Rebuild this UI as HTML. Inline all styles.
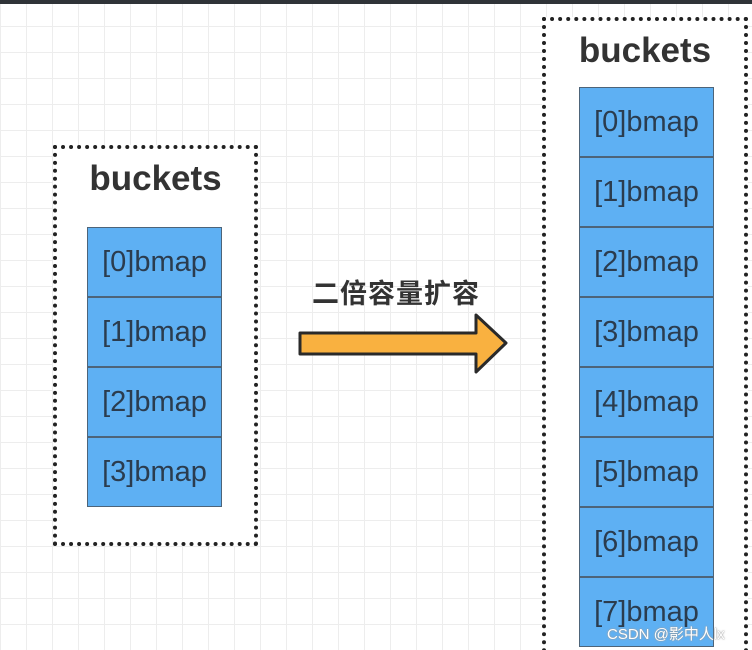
<!DOCTYPE html>
<html><head><meta charset="utf-8"><style>
html,body{margin:0;width:752px;height:650px;overflow:hidden}
body{position:relative;font-family:"Liberation Sans","Noto Sans CJK SC",sans-serif;
background-color:#fff;background-image:linear-gradient(#ededed 1px,transparent 1px),linear-gradient(90deg,#ededed 1px,transparent 1px);background-size:26px 26px;}
.bar{position:absolute;left:0;top:0;width:752px;height:4px;background:#2f3338}
.box{position:absolute;border:4px dotted #222;background:#fff;box-sizing:border-box}
.title{position:absolute;width:100%;text-align:center;font-size:35px;font-weight:bold;color:#333}
.cell{position:absolute;width:135px;height:70px;background:#5eb0f3;border:1.5px solid #4d6479;box-sizing:border-box;text-align:center;line-height:68px;font-size:29px;color:#2b3c4e}
.lbl{position:absolute;left:312px;top:272px;font-size:27px;font-weight:bold;color:#333;letter-spacing:1px;white-space:nowrap}
.wm{position:absolute;left:607px;top:623px;font-size:15px;color:#fff;white-space:nowrap;text-shadow:0 0 1px #888,0 0 2px #aaa}
</style></head><body>
<div class="bar"></div>
<div class="box" style="left:53px;top:145px;width:205px;height:401px"><div class="title" style="top:10px">buckets</div></div>
<div class="cell" style="left:87px;top:227px">[0]bmap</div>
<div class="cell" style="left:87px;top:297px">[1]bmap</div>
<div class="cell" style="left:87px;top:367px">[2]bmap</div>
<div class="cell" style="left:87px;top:437px">[3]bmap</div>
<div class="box" style="left:542px;top:17px;width:206px;height:660px"><div class="title" style="top:10px">buckets</div></div>
<div class="cell" style="left:579px;top:87px">[0]bmap</div>
<div class="cell" style="left:579px;top:157px">[1]bmap</div>
<div class="cell" style="left:579px;top:227px">[2]bmap</div>
<div class="cell" style="left:579px;top:297px">[3]bmap</div>
<div class="cell" style="left:579px;top:367px">[4]bmap</div>
<div class="cell" style="left:579px;top:437px">[5]bmap</div>
<div class="cell" style="left:579px;top:507px">[6]bmap</div>
<div class="cell" style="left:579px;top:577px">[7]bmap</div>
<div class="lbl">二倍容量扩容</div>
<svg style="position:absolute;left:0;top:0" width="752" height="650">
<polygon points="300,333 476,333 476,315 506,343 476,372 476,354 300,354" fill="#f9b140" stroke="#2a2a2a" stroke-width="3" stroke-linejoin="round"/>
</svg>
<div class="wm">CSDN @影中人lx</div>
</body></html>
